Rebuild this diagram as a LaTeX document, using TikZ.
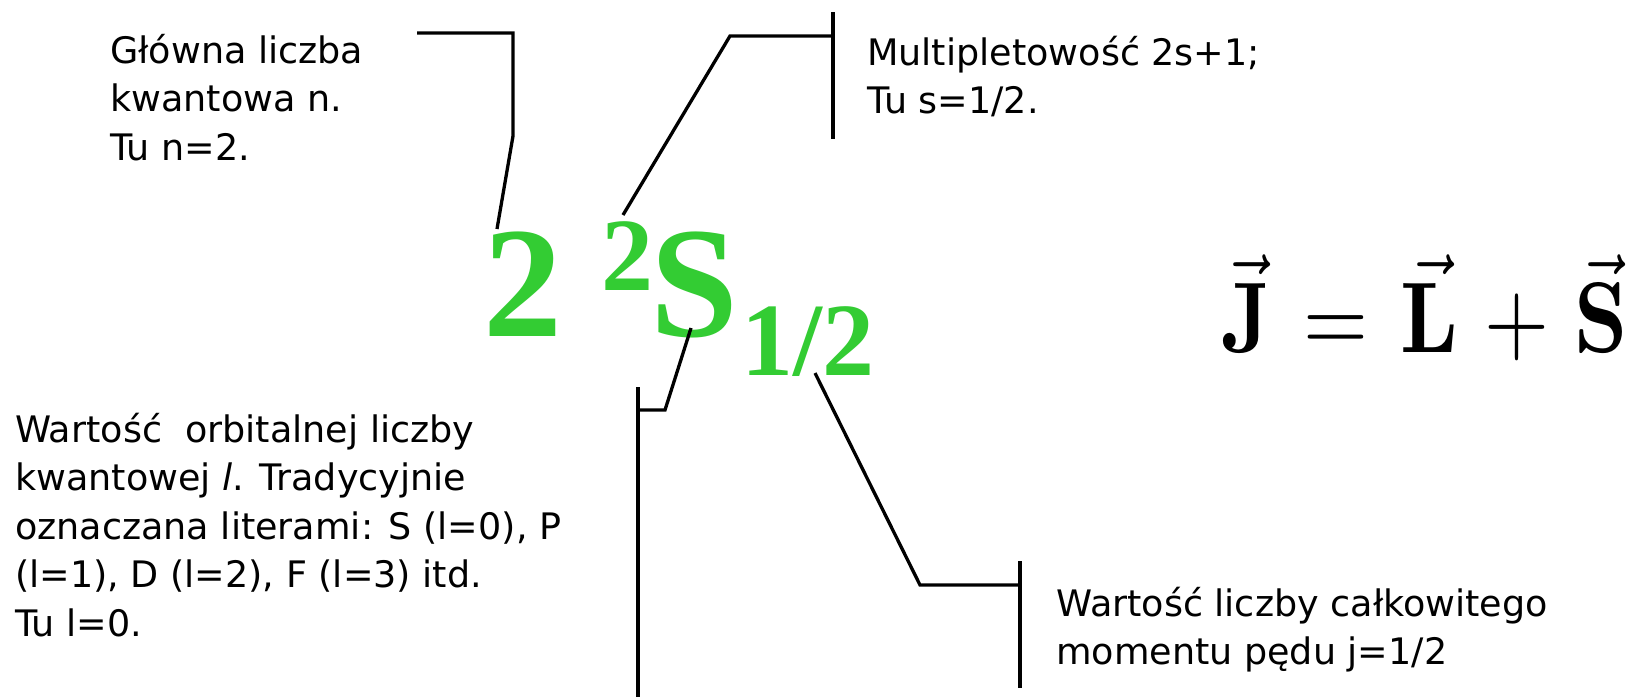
\documentclass[tikz,border=0pt]{standalone}
\usepackage[no-math]{fontspec}
\usepackage{graphicx}
\setmainfont{DejaVu Sans}
\newfontfamily\timesf{Liberation Serif}
\definecolor{lgreen}{RGB}{51,204,51}
\tikzset{
  lbl/.style={anchor=base west, inner sep=0pt, text=black,
    font=\fontsize{36.5}{48.5}\selectfont},
  grn/.style={anchor=base west, inner sep=0pt, text=lgreen},
  bigf/.style={font=\timesf\bfseries\fontsize{158}{158}\selectfont},
  smallf/.style={font=\timesf\bfseries\fontsize{104}{104}\selectfont},
  bar/.style={line width=3.5pt},
  lead/.style={line width=3.3pt, line join=miter},
}
\begin{document}
\begin{tikzpicture}[x=1pt, y=-1pt]
\fill[white] (0,0) rectangle (1630,696);
\useasboundingbox (0,0) rectangle (1630,696);

% texts
\node[lbl] (glowna) at (110,63) {\vtop{\hbox{Główna liczba}\hbox{kwantowa n.}\hbox{Tu n=2.}}};
\node[lbl] (multi) at (867,65) {\vtop{\hbox{Multipletowość 2s+1;}\hbox{Tu s=1/2.}}};
\node[lbl] (orb) at (15,442) {\vtop{\hbox{Wartość\ \ orbitalnej liczby}\hbox{kwantowej \textit{l}. Tradycyjnie}\hbox{oznaczana literami: S (l=0), P}\hbox{(l=1), D (l=2), F (l=3) itd.}\hbox{Tu l=0.}}};
\node[lbl] (jtot) at (1056,616) {\vtop{\hbox{Wartość liczby całkowitego}\hbox{momentu pędu j=1/2}}};

% green term symbol
\node[grn, bigf] (n) at (483,336) {2};
\node[grn, smallf] (mult) at (601,290) {2};
\node[grn, bigf] (L) at (650,336) {S};
\node[grn, smallf] (j) at (741,375) {1/2};

% formula
\node[anchor=base west, inner sep=0pt] (eq) at (1221,352)
  {\fontsize{10}{12}\selectfont\scalebox{8.35}[10.05]{$\thickmuskip=7mu\medmuskip=5.5mu \vec{\mathbf{J}} = \vec{\mathbf{L}} + \vec{\mathbf{S}}$}};

% connector coordinates
\coordinate (g1) at (417,33);
\coordinate (g2) at (513,33);
\coordinate (g3) at (513,136);
\coordinate (g4) at (497,229);

\coordinate (mtop) at (833,12);
\coordinate (mbot) at (833,139);
\coordinate (m1) at (623,215);
\coordinate (m2) at (730,36);
\coordinate (m3) at (833,36);

\coordinate (otop) at (638,387);
\coordinate (obot) at (638,700);
\coordinate (o1) at (691,328);
\coordinate (o2) at (665,410);
\coordinate (o3) at (638,410);

\coordinate (jtop) at (1020,561);
\coordinate (jbot) at (1020,688);
\coordinate (j1) at (815,373);
\coordinate (j2) at (920,585);
\coordinate (j3) at (1020,585);

\draw[lead] (g1) -- (g2) -- (g3) -- (g4);
\draw[bar] (mtop) -- (mbot);
\draw[lead] (m1) -- (m2) -- (m3);
\draw[bar] (otop) -- (obot);
\draw[lead] (o1) -- (o2) -- (o3);
\draw[bar] (jtop) -- (jbot);
\draw[lead] (j1) -- (j2) -- (j3);
\end{tikzpicture}
\end{document}
